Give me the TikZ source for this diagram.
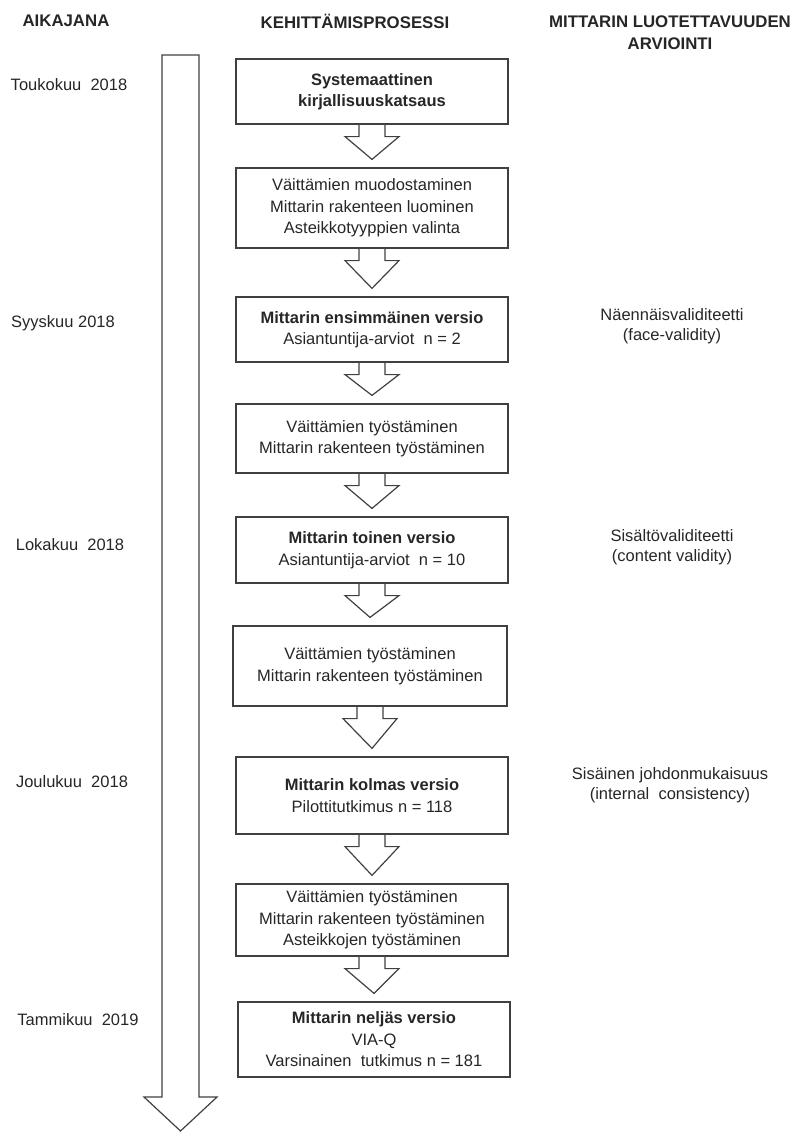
\documentclass[tikz,border=0pt]{standalone}
\usepackage{fontspec}
\setmainfont{Liberation Sans}
\usetikzlibrary{calc}

\begin{document}
\begin{tikzpicture}
  [x=1pt,y=-1pt,
   every node/.style={text=black!85,font=\fontsize{16.5}{21.5}\selectfont,align=center,inner sep=0pt},
   title/.style={font=\fontsize{16.8}{22}\selectfont\bfseries},
   stage/.style={draw=black!75,line width=1.2pt,minimum width=272pt},
   blockarrow/.style={draw=black!75,line width=1.2pt,to path={
     ($(\tikztostart.south)+(-13,0)$) -- ++(0,12) -- ++(-14,0)
     -- ($(\tikztotarget.north)+(0,-8)$)
     -- ($(\tikztostart.south)+(27,12)$) -- ++(-14,0) -- ++(0,-12)}}]
  \useasboundingbox (0,0) rectangle (798,1132);

  \node[title] (h1) at (66,21) {AIKAJANA};
  \node[title] (h2) at (355,21) {KEHITTÄMISPROSESSI};
  \node[title] (h3) at (670,33) {MITTARIN LUOTETTAVUUDEN\\ARVIOINTI};

  \draw[draw=black!75,line width=1.2pt] (162,55) -- (199,55) -- (199,1097) -- (217,1097)
    -- (180.5,1131) -- (144,1097) -- (162,1097) -- cycle;

  \node (d1) at (69,85) {Toukokuu\ \ 2018};
  \node (d2) at (63,323) {Syyskuu 2018};
  \node (d3) at (70,545) {Lokakuu\ \ 2018};
  \node (d4) at (72,782) {Joulukuu\ \ 2018};
  \node (d5) at (78,1020) {Tammikuu\ \ 2019};

  \node[stage,minimum height=65pt] (s1) at (372,91.5) {\bfseries Systemaattinen\\\bfseries kirjallisuuskatsaus};
  \node[stage,minimum height=80pt] (s2) at (372,208) {Väittämien muodostaminen\\Mittarin rakenteen luominen\\Asteikkotyyppien valinta};
  \node[stage,minimum height=65pt] (s3) at (372,329.5) {\textbf{Mittarin ensimmäinen versio}\\Asiantuntija-arviot\ \ n = 2};
  \node[stage,minimum height=69pt] (s4) at (372,438.5) {Väittämien työstäminen\\Mittarin rakenteen työstäminen};
  \node[stage,minimum height=66pt] (s5) at (372,550) {\textbf{Mittarin toinen versio}\\Asiantuntija-arviot\ \ n = 10};
  \node[stage,minimum height=80pt,minimum width=274pt] (s6) at (370,666) {Väittämien työstäminen\\Mittarin rakenteen työstäminen};
  \node[stage,minimum height=77pt] (s7) at (372,795.5) {\textbf{Mittarin kolmas versio}\\Pilottitutkimus n = 118};
  \node[stage,minimum height=72pt] (s8) at (372,920) {Väittämien työstäminen\\Mittarin rakenteen työstäminen\\Asteikkojen työstäminen};
  \node[stage,minimum height=75pt] (s9) at (374,1039.5) {\textbf{Mittarin neljäs versio}\\VIA-Q\\Varsinainen\ \ tutkimus n = 181};

  \node[font=\fontsize{16.5}{19.5}\selectfont] (e1) at (672,326) {Näennäisvaliditeetti\\(face-validity)};
  \node[font=\fontsize{16.5}{19.5}\selectfont] (e2) at (672,547) {Sisältövaliditeetti\\(content validity)};
  \node[font=\fontsize{16.5}{19.5}\selectfont] (e3) at (670,785) {Sisäinen johdonmukaisuus\\(internal\ \ consistency)};

  \path[blockarrow]
        (s1) edge (s2)
        (s2) edge (s3)
        (s3) edge (s4)
        (s4) edge (s5)
        (s5) edge (s6)
        (s6) edge (s7)
        (s7) edge (s8)
        (s8) edge (s9);

\end{tikzpicture}
\end{document}
